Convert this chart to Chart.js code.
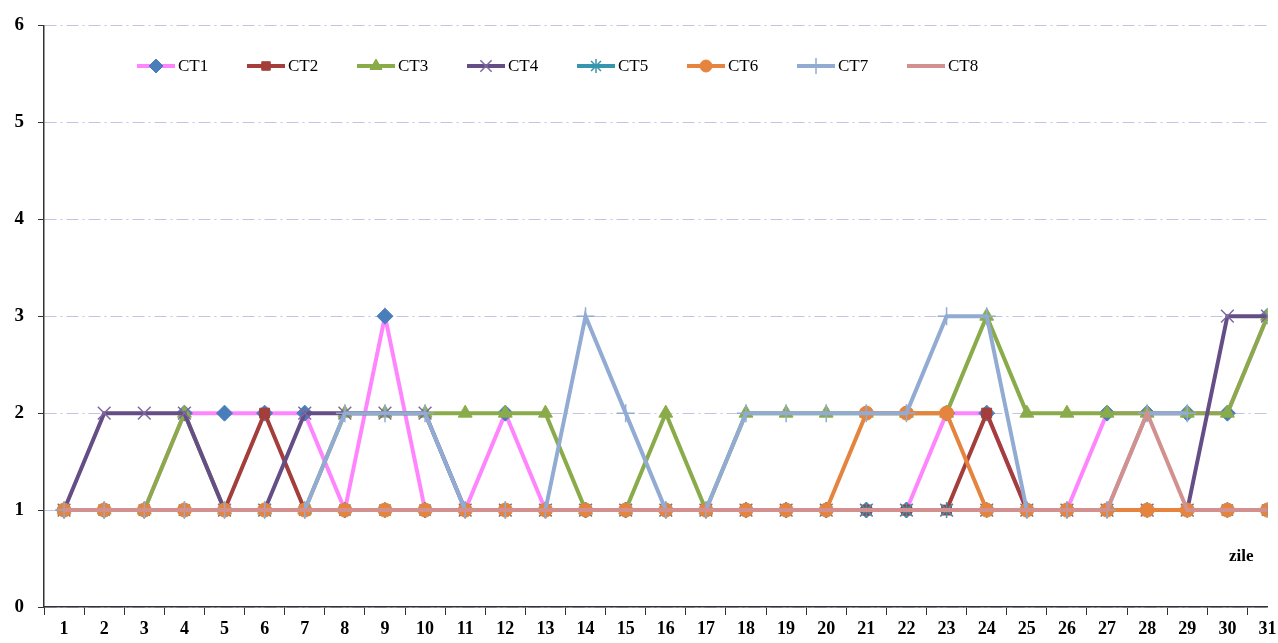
<!DOCTYPE html>
<html lang="ro">
<head>
    <meta charset="UTF-8">
    <title>CT1 - CT8 pe zile</title>
    <script src="https://cdn.jsdelivr.net/npm/chart.js"></script>
    <style>
        html, body {
            margin: 0;
            overflow: hidden;
            background: #fff;
        }
        canvas {
            display: block;
        }
    </style>
</head>
<body>
    <canvas id="ctChart" width="1278" height="643"></canvas>

    <script>
        // zilele lunii
        const days = Array.from({ length: 31 }, (_, i) => i + 1);

        // valorile
        const ct1 = [1,1,1,2,2,2,2,1,3,1,1,2,1,1,1,1,1,1,1,1,1,1,2,2,1,1,2,2,2,2,3];
        const ct2 = [1,1,1,1,1,2,1,1,1,1,1,1,1,1,1,1,1,1,1,1,1,1,1,2,1,1,1,1,1,1,1];
        const ct3 = [1,1,1,2,1,1,1,2,2,2,2,2,2,1,1,2,1,2,2,2,2,2,2,3,2,2,2,2,2,2,3];
        const ct4 = [1,2,2,2,1,1,2,2,2,2,1,1,1,1,1,1,1,1,1,1,1,1,1,1,1,1,1,1,1,3,3];
        const ct5 = [1,1,1,1,1,1,1,1,1,1,1,1,1,1,1,1,1,1,1,1,1,1,1,1,1,1,1,1,1,1,1];
        const ct6 = [1,1,1,1,1,1,1,1,1,1,1,1,1,1,1,1,1,1,1,1,2,2,2,1,1,1,1,1,1,1,1];
        const ct7 = [1,1,1,1,1,1,1,2,2,2,1,1,1,3,2,1,1,2,2,2,2,2,3,3,1,1,1,2,2,null,null];
        const ct8 = [1,1,1,1,1,1,1,1,1,1,1,1,1,1,1,1,1,1,1,1,1,1,1,1,1,1,1,2,1,1,1];

        const yTicks = [0, 1, 2, 3, 4, 5, 6];

        const SERIF = "'Liberation Serif', 'Times New Roman', serif";

        function series(label, data, line, marker, style, radius, order) {
            return {
                label: label,
                data: data,
                borderColor: line,
                backgroundColor: marker,
                borderWidth: 4,
                tension: 0,
                pointStyle: style,
                pointRadius: radius,
                pointHoverRadius: radius,
                pointBackgroundColor: marker,
                pointBorderColor: marker,
                pointBorderWidth: style === 'crossRot' || style === 'cross' || style === 'star' ? 1.5 : 1,
                order: order,
                spanGaps: false
            };
        }

        const datasets = [
            series('CT1', ct1, '#ff85ff', '#4a7ebb', 'rectRot', 8, 8),
            series('CT2', ct2, '#a33e3b', '#a33e3b', 'rect', 7, 7),
            series('CT3', ct3, '#8aab4a', '#8aab4a', 'triangle', 8, 6),
            series('CT4', ct4, '#654d86', '#7f67a0', 'crossRot', 9, 5),
            series('CT5', ct5, '#3795ad', '#3795ad', 'star', 8, 4),
            series('CT6', ct6, '#e5843e', '#e5843e', 'circle', 7, 3),
            series('CT7', ct7, '#91abd2', '#91abd2', 'cross', 9, 2),
            series('CT8', ct8, '#d2918e', '#d2918e', 'circle', 0, 1)
        ];

        // legenda desenata in interiorul graficului, ca in original
        const insideLegend = {
            id: 'insideLegend',
            afterDraw(chart) {
                const ctx = chart.ctx;
                ctx.save();
                datasets.forEach((ds, i) => {
                    const x = 137 + i * 110;
                    const y = 66;
                    ctx.strokeStyle = ds.borderColor;
                    ctx.lineWidth = 4;
                    ctx.beginPath();
                    ctx.moveTo(x, y);
                    ctx.lineTo(x + 38, y);
                    ctx.stroke();
                    if (ds.pointRadius > 0) {
                        ctx.fillStyle = ds.pointBackgroundColor;
                        ctx.strokeStyle = ds.pointBorderColor;
                        ctx.lineWidth = ds.pointBorderWidth;
                        Chart.helpers.drawPoint(ctx, {
                            pointStyle: ds.pointStyle,
                            radius: ds.pointRadius - 1,
                            rotation: 0,
                            borderWidth: ds.pointBorderWidth
                        }, x + 19, y);
                    }
                    ctx.fillStyle = '#000';
                    ctx.font = '17px ' + SERIF;
                    ctx.textBaseline = 'middle';
                    ctx.textAlign = 'left';
                    ctx.fillText(ds.label, x + 41, y + 1);
                });
                // eticheta axei X
                ctx.font = 'bold 17px ' + SERIF;
                ctx.textAlign = 'left';
                ctx.fillText('zile', 1229, 557);
                ctx.restore();
            }
        };

        const ctx = document.getElementById('ctChart').getContext('2d');
        new Chart(ctx, {
            type: 'line',
            data: {
                labels: days,
                datasets: datasets
            },
            options: {
                responsive: false,
                devicePixelRatio: 1,
                animation: false,
                layout: {
                    padding: { top: 22, right: 0, left: 0, bottom: 0 }
                },
                plugins: {
                    legend: { display: false },
                    tooltip: { enabled: false }
                },
                scales: {
                    x: {
                        // axa e taiata in dreapta, ca in imaginea originala
                        type: 'linear',
                        min: days[0] - 0.5,
                        max: days[days.length - 1],
                        afterFit(scale) {
                            scale.height = 36;
                            scale.paddingLeft = 0;
                            scale.paddingRight = 0;
                        },
                        afterBuildTicks(scale) {
                            scale.ticks = days.map(v => ({ value: v }));
                        },
                        grid: {
                            offset: true,
                            drawOnChartArea: false,
                            drawTicks: true,
                            tickLength: 8,
                            color: '#333',
                            tickColor: '#333'
                        },
                        border: { display: true, color: '#333', width: 1.5 },
                        ticks: {
                            color: '#000',
                            padding: 4,
                            maxRotation: 0,
                            autoSkip: false,
                            font: { family: SERIF, size: 18, weight: 'bold' }
                        }
                    },
                    y: {
                        min: yTicks[0],
                        max: yTicks[yTicks.length - 1],
                        afterFit(scale) { scale.width = 44; },
                        afterBuildTicks(scale) {
                            scale.ticks = yTicks.map(v => ({ value: v }));
                        },
                        grid: {
                            color: '#c3c3e6',
                            lineWidth: 1,
                            tickLength: 6,
                            tickColor: '#333',
                            tickBorderDash: []
                        },
                        border: { display: true, color: '#333', width: 1.5, dash: [12, 4, 2, 4] },
                        ticks: {
                            color: '#000',
                            padding: 14,
                            font: { family: SERIF, size: 19, weight: 'bold' }
                        }
                    }
                }
            },
            plugins: [insideLegend]
        });
    </script>
</body>
</html>
